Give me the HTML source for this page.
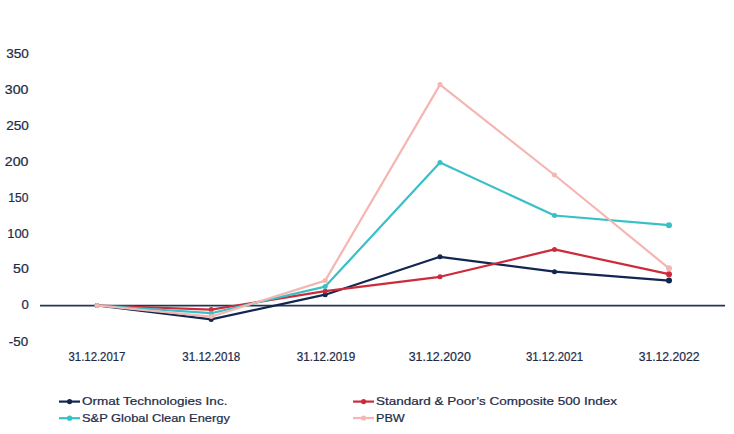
<!DOCTYPE html>
<html><head><meta charset="utf-8">
<style>
html,body{margin:0;padding:0;background:#fff;}
body{width:734px;height:434px;overflow:hidden;position:relative;font-family:"Liberation Sans",sans-serif;}
svg{position:absolute;left:0;top:0;}
text{font-family:"Liberation Sans",sans-serif;}
</style></head><body>
<svg width="734" height="434" viewBox="0 0 734 434">
<text x="6.20" y="57.80" font-size="12" fill="#1e2b48" stroke="#1e2b48" stroke-width="0.22" textLength="22.60" lengthAdjust="spacingAndGlyphs" text-anchor="start">350</text>
<text x="4.80" y="93.80" font-size="12" fill="#1e2b48" stroke="#1e2b48" stroke-width="0.22" textLength="23.60" lengthAdjust="spacingAndGlyphs" text-anchor="start">300</text>
<text x="6.20" y="129.80" font-size="12" fill="#1e2b48" stroke="#1e2b48" stroke-width="0.22" textLength="22.60" lengthAdjust="spacingAndGlyphs" text-anchor="start">250</text>
<text x="4.80" y="165.60" font-size="12" fill="#1e2b48" stroke="#1e2b48" stroke-width="0.22" textLength="23.60" lengthAdjust="spacingAndGlyphs" text-anchor="start">200</text>
<text x="8.30" y="201.60" font-size="12" fill="#1e2b48" stroke="#1e2b48" stroke-width="0.22" textLength="20.10" lengthAdjust="spacingAndGlyphs" text-anchor="start">150</text>
<text x="7.20" y="237.60" font-size="12" fill="#1e2b48" stroke="#1e2b48" stroke-width="0.22" textLength="21.60" lengthAdjust="spacingAndGlyphs" text-anchor="start">100</text>
<text x="13.10" y="273.40" font-size="12" fill="#1e2b48" stroke="#1e2b48" stroke-width="0.22" textLength="15.70" lengthAdjust="spacingAndGlyphs" text-anchor="start">50</text>
<text x="21.50" y="309.20" font-size="12" fill="#1e2b48" stroke="#1e2b48" stroke-width="0.22" textLength="7.30" lengthAdjust="spacingAndGlyphs" text-anchor="start">0</text>
<text x="8.80" y="345.60" font-size="12" fill="#1e2b48" stroke="#1e2b48" stroke-width="0.22" textLength="19.30" lengthAdjust="spacingAndGlyphs" text-anchor="start">-50</text>
<text x="68.50" y="360.90" font-size="12" fill="#1e2b48" stroke="#1e2b48" stroke-width="0.22" textLength="56.90" lengthAdjust="spacingAndGlyphs" text-anchor="start">31.12.2017</text>
<text x="182.30" y="360.90" font-size="12" fill="#1e2b48" stroke="#1e2b48" stroke-width="0.22" textLength="58.00" lengthAdjust="spacingAndGlyphs" text-anchor="start">31.12.2018</text>
<text x="296.70" y="360.90" font-size="12" fill="#1e2b48" stroke="#1e2b48" stroke-width="0.22" textLength="58.60" lengthAdjust="spacingAndGlyphs" text-anchor="start">31.12.2019</text>
<text x="408.70" y="360.90" font-size="12" fill="#1e2b48" stroke="#1e2b48" stroke-width="0.22" textLength="62.10" lengthAdjust="spacingAndGlyphs" text-anchor="start">31.12.2020</text>
<text x="525.90" y="360.90" font-size="12" fill="#1e2b48" stroke="#1e2b48" stroke-width="0.22" textLength="57.20" lengthAdjust="spacingAndGlyphs" text-anchor="start">31.12.2021</text>
<text x="638.70" y="360.90" font-size="12" fill="#1e2b48" stroke="#1e2b48" stroke-width="0.22" textLength="60.80" lengthAdjust="spacingAndGlyphs" text-anchor="start">31.12.2022</text>
<line x1="40" y1="305.6" x2="725" y2="305.6" stroke="#26344f" stroke-width="1.6"/>
<polyline fill="none" stroke="#13264f" stroke-width="2.2" stroke-linejoin="round" points="97,305.5 211.2,319.4 325.2,294.7 440,256.8 554.5,271.7 669,280.6"/>
<circle cx="97" cy="305.5" r="2.5" fill="#13264f"/>
<circle cx="211.2" cy="319.4" r="2.5" fill="#13264f"/>
<circle cx="325.2" cy="294.7" r="2.5" fill="#13264f"/>
<circle cx="440" cy="256.8" r="2.5" fill="#13264f"/>
<circle cx="554.5" cy="271.7" r="2.5" fill="#13264f"/>
<circle cx="669" cy="280.6" r="3" fill="#13264f"/>
<polyline fill="none" stroke="#cc2b3b" stroke-width="2.2" stroke-linejoin="round" points="97,305.5 211.2,309.6 325.2,291.2 440,276.8 554.5,249.4 669,274.2"/>
<circle cx="97" cy="305.5" r="2.5" fill="#cc2b3b"/>
<circle cx="211.2" cy="309.6" r="2.5" fill="#cc2b3b"/>
<circle cx="325.2" cy="291.2" r="2.5" fill="#cc2b3b"/>
<circle cx="440" cy="276.8" r="2.5" fill="#cc2b3b"/>
<circle cx="554.5" cy="249.4" r="2.5" fill="#cc2b3b"/>
<circle cx="669" cy="274.2" r="3" fill="#cc2b3b"/>
<polyline fill="none" stroke="#38c0c6" stroke-width="2.2" stroke-linejoin="round" points="97,305.5 211.2,313.2 325.2,286.6 440,162.4 554.5,215.5 669,225.2"/>
<circle cx="97" cy="305.5" r="2.5" fill="#38c0c6"/>
<circle cx="211.2" cy="313.2" r="2.5" fill="#38c0c6"/>
<circle cx="325.2" cy="286.6" r="2.5" fill="#38c0c6"/>
<circle cx="440" cy="162.4" r="2.5" fill="#38c0c6"/>
<circle cx="554.5" cy="215.5" r="2.5" fill="#38c0c6"/>
<circle cx="669" cy="225.2" r="3" fill="#38c0c6"/>
<polyline fill="none" stroke="#f5b6b2" stroke-width="2.2" stroke-linejoin="round" points="97,305.5 211.2,316.6 325.2,280.6 440,84.6 554.5,175 669,268.3"/>
<circle cx="97" cy="305.5" r="2.5" fill="#f5b6b2"/>
<circle cx="211.2" cy="316.6" r="2.5" fill="#f5b6b2"/>
<circle cx="325.2" cy="280.6" r="2.5" fill="#f5b6b2"/>
<circle cx="440" cy="84.6" r="2.5" fill="#f5b6b2"/>
<circle cx="554.5" cy="175" r="2.5" fill="#f5b6b2"/>
<circle cx="669" cy="268.3" r="3" fill="#f5b6b2"/>
<line x1="59" y1="401.6" x2="80" y2="401.6" stroke="#13264f" stroke-width="2.2"/>
<circle cx="69.6" cy="401.6" r="2.6" fill="#13264f"/>
<line x1="353" y1="401.6" x2="374" y2="401.6" stroke="#cc2b3b" stroke-width="2.2"/>
<circle cx="363.6" cy="401.6" r="2.6" fill="#cc2b3b"/>
<line x1="59" y1="418.2" x2="80" y2="418.2" stroke="#38c0c6" stroke-width="2.2"/>
<circle cx="69.6" cy="418.2" r="2.6" fill="#38c0c6"/>
<line x1="353" y1="418.0" x2="374" y2="418.0" stroke="#f5b6b2" stroke-width="2.2"/>
<circle cx="363.6" cy="418.0" r="2.6" fill="#f5b6b2"/>
<text x="82.00" y="405.20" font-size="11.4" fill="#1e2b48" stroke="#1e2b48" stroke-width="0.22" textLength="145.40" lengthAdjust="spacingAndGlyphs" text-anchor="start">Ormat Technologies Inc.</text>
<text x="376.00" y="405.20" font-size="11.4" fill="#1e2b48" stroke="#1e2b48" stroke-width="0.22" textLength="240.90" lengthAdjust="spacingAndGlyphs" text-anchor="start">Standard &amp; Poor’s Composite 500 Index</text>
<text x="82.00" y="421.90" font-size="11.4" fill="#1e2b48" stroke="#1e2b48" stroke-width="0.22" textLength="147.90" lengthAdjust="spacingAndGlyphs" text-anchor="start">S&amp;P Global Clean Energy</text>
<text x="376.00" y="421.90" font-size="11.4" fill="#1e2b48" stroke="#1e2b48" stroke-width="0.22" textLength="28.80" lengthAdjust="spacingAndGlyphs" text-anchor="start">PBW</text>
</svg>
</body></html>
